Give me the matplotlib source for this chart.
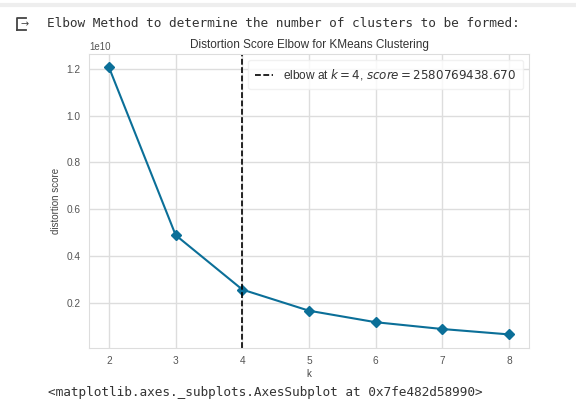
import matplotlib.pyplot as plt
from matplotlib.lines import Line2D

# data
k_values = [2, 3, 4, 5, 6, 7, 8]
distortion = [1.205e10, 0.490e10, 0.2580769438670e10, 0.168e10, 0.119e10, 0.090e10, 0.067e10]
elbow_k = 4
elbow_score = 2580769438.670

header_text = "Elbow Method to determine the number of clusters to be formed:"
footer_text = "<matplotlib.axes._subplots.AxesSubplot at 0x7fe482d58990>"

plt.rcParams['font.family'] = ['Liberation Sans', 'DejaVu Sans']
plt.rcParams['mathtext.fontset'] = 'dejavusans'

fig = plt.figure(figsize=(5.76, 4.19), dpi=100)
fig.patch.set_facecolor('white')

# notebook output decorations
fig.add_artist(Line2D([0, 1], [0.988, 0.988], color='#eeeeee', lw=3))
fig.add_artist(Line2D([0.029, 0.029, 0.045], [0.928, 0.958, 0.958], color='#444444', lw=1.3))
fig.add_artist(Line2D([0.029, 0.045], [0.928, 0.928], color='#444444', lw=1.3))
fig.text(0.035, 0.943, "→", fontsize=7, color='#444444', va='center', ha='left',
         family='DejaVu Sans')
fig.text(0.081, 0.943, header_text, family='DejaVu Sans Mono', fontsize=9.15,
         color='#333333', va='center', ha='left')
fig.text(0.083, 0.064, footer_text, family='DejaVu Sans Mono', fontsize=9.15,
         color='#333333', va='center', ha='left')

ax = fig.add_axes([0.1545, 0.170, 0.764, 0.701])
ax.plot(k_values, distortion, marker='D', color='#0b6f98', lw=1.5, markersize=5)
ax.axvline(elbow_k, color='black', ls=(0, (3.5, 1.5)), lw=1.2,
           label='elbow at $k={}$, $score={:0.3f}$'.format(elbow_k, elbow_score))

ax.set_title('Distortion Score Elbow for KMeans Clustering', fontsize=8.5, color='#333333', pad=4)
ax.set_xlabel('k', fontsize=7, color='#444444', labelpad=2)
ax.set_ylabel('distortion score', fontsize=7, color='#444444')
ax.set_yticks([0.2e10, 0.4e10, 0.6e10, 0.8e10, 1.0e10, 1.2e10])
ax.tick_params(labelsize=7.3, colors='#555555', length=0, pad=6)
ax.yaxis.get_offset_text().set_fontsize(7)
ax.yaxis.get_offset_text().set_color('#555555')
ax.grid(True, color='#dddddd', lw=1)
ax.set_axisbelow(True)
for s in ax.spines.values():
    s.set_color('#dddddd')

leg = ax.legend(loc='upper right', fontsize=8.6, frameon=True, handlelength=1.5,
                borderpad=0.6, borderaxespad=0.5)
leg.get_frame().set_edgecolor('#eeeeee')
for t in leg.get_texts():
    t.set_color('#333333')

fig.savefig('out.png', dpi=100)
